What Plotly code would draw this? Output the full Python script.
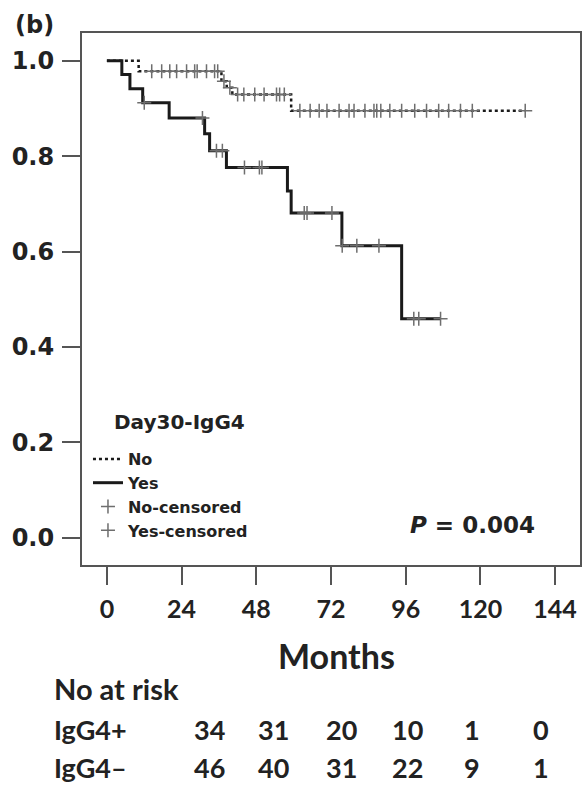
import numpy as np
import plotly.graph_objects as go

# ---------------- data ----------------
months_ticks = [0, 24, 48, 72, 96, 120, 144]
surv_ticks = [0.0, 0.2, 0.4, 0.6, 0.8, 1.0]
surv_ticktext = ["0.0", "0.2", "0.4", "0.6", "0.8", "1.0"]

# Day30-IgG4 = No (dotted)
no_times = [0, 10.2, 36.8, 38.5, 40.3, 59.2]
no_surv = [1.0, 0.978, 0.957, 0.943, 0.929, 0.895]
no_end = 134.4
no_censor = [14.4, 17.6, 20.2, 22.4, 25.6, 28.2, 29.0, 32.0, 34.6, 35.6,
             37.6, 39.5, 42.0, 44.0, 47.5, 50.5, 54.5, 55.5, 57.0,
             62.0, 65.3, 68.2, 70.7, 74.6, 77.8, 79.4, 82.9, 85.8, 86.7, 88.0,
             90.9, 94.7, 98.9, 102.7, 106.6, 109.8, 113.6, 117.4, 134.4]

# Day30-IgG4 = Yes (solid)
yes_times = [0, 4.8, 7.4, 11.5, 20.0, 31.4, 33.0, 38.4, 58.0, 59.2, 75.5, 94.7]
yes_surv = [1.0, 0.971, 0.941, 0.912, 0.880, 0.847, 0.811, 0.776, 0.727, 0.681, 0.612, 0.459]
yes_end = 107.2
yes_censor = [12.0, 30.7, 35.2, 37.1, 44.2, 49.0, 49.8, 63.4, 64.3, 72.3,
              75.6, 80.3, 87.4, 98.6, 100.2, 107.2]

risk_rows = ["IgG4+", "IgG4\u2013"]
risk_pos = [34, 31, 20, 10, 1, 0]
risk_neg = [46, 40, 31, 22, 9, 1]

p_text = "<i>P</i> = 0.004"
legend_title = "Day30-IgG4"

# ---------------- helpers ----------------
def step_value(times, surv, t):
    idx = np.searchsorted(np.array(times), np.array(t), side="right") - 1
    return list(np.array(surv)[idx])

W, H = 583, 787
L, R, T, B = 82, 582, 33, 565  # plot box in pixels

def px(xp):
    return (xp - L) / (R - L)

def py(yp):
    return (B - yp) / (B - T)

fig = go.Figure()

fig.add_trace(go.Scatter(
    x=no_times + [no_end], y=no_surv + [no_surv[-1]],
    mode="lines", line=dict(shape="hv", dash="dot", color="#1a1a1a", width=2.5),
    name="No"))
fig.add_trace(go.Scatter(
    x=yes_times + [yes_end], y=yes_surv + [yes_surv[-1]],
    mode="lines", line=dict(shape="hv", color="#1a1a1a", width=3),
    name="Yes"))
fig.add_trace(go.Scatter(
    x=no_censor, y=step_value(no_times, no_surv, no_censor),
    mode="markers", marker=dict(symbol="cross-thin", size=10,
                                line=dict(width=1.5, color="#6e6e6e")),
    name="No-censored"))
fig.add_trace(go.Scatter(
    x=yes_censor, y=step_value(yes_times, yes_surv, yes_censor),
    mode="markers", marker=dict(symbol="cross-thin", size=10,
                                line=dict(width=1.5, color="#6e6e6e")),
    name="Yes-censored"))

axis_col = "#555555"
bold_font = "DejaVu Sans"
cal_font = "Lato"
fig.update_layout(
    width=W, height=H,
    margin=dict(l=L, r=W - R, t=T, b=H - B),
    paper_bgcolor="white", plot_bgcolor="white",
    showlegend=True,
    legend=dict(
        x=px(88), y=py(442), xanchor="left", yanchor="top",
        bgcolor="rgba(0,0,0,0)",
        font=dict(family=bold_font, size=16, color="#222", weight="bold"),
        tracegroupgap=0, itemwidth=30,
    ),
    xaxis=dict(
        range=[-8, 152], tickvals=months_ticks, ticktext=[str(v) for v in months_ticks],
        showgrid=False, zeroline=False,
        showline=True, mirror=True, linecolor=axis_col, linewidth=2,
        ticks="outside", ticklen=18, tickwidth=2, tickcolor=axis_col,
        tickfont=dict(family=cal_font, size=25, color="#222", weight="bold"),
        ticklabelstandoff=3,
    ),
    yaxis=dict(
        range=[-0.057, 1.058], tickvals=surv_ticks, ticktext=surv_ticktext,
        showgrid=False, zeroline=False,
        showline=True, mirror=True, linecolor=axis_col, linewidth=2,
        ticks="outside", ticklen=18, tickwidth=2, tickcolor=axis_col,
        tickfont=dict(family=bold_font, size=24, color="#222", weight="bold"),
        ticklabelstandoff=3,
    ),
)

ann = []
ann.append(dict(text="(b)", x=px(13), y=py(25), xref="paper", yref="paper",
                xanchor="left", yanchor="middle", showarrow=False,
                font=dict(family=bold_font, size=24, color="#222", weight="bold")))
ann.append(dict(text=legend_title, x=px(112), y=py(422), xref="paper", yref="paper",
                xanchor="left", yanchor="middle", showarrow=False,
                font=dict(family=bold_font, size=20, color="#222", weight="bold")))
ann.append(dict(text=p_text, x=px(539), y=py(525), xref="paper", yref="paper",
                xanchor="right", yanchor="middle", showarrow=False,
                font=dict(family=bold_font, size=23, color="#222", weight="bold")))
ann.append(dict(text="Months", x=px(338), y=py(655), xref="paper", yref="paper",
                xanchor="center", yanchor="middle", showarrow=False,
                font=dict(family=cal_font, size=34, color="#222", weight="bold")))
ann.append(dict(text="No at risk", x=px(52), y=py(688), xref="paper", yref="paper",
                xanchor="left", yanchor="middle", showarrow=False,
                font=dict(family=cal_font, size=29, color="#222", weight="bold")))
col_x = [210, 274, 343, 409, 474, 543]
for row_label, vals, yp in zip(risk_rows, [risk_pos, risk_neg], [729, 767]):
    ann.append(dict(text=row_label, x=px(52), y=py(yp), xref="paper", yref="paper",
                    xanchor="left", yanchor="middle", showarrow=False,
                    font=dict(family=cal_font, size=27, color="#222", weight="bold")))
    for cx, v in zip(col_x, vals):
        ann.append(dict(text=str(v), x=px(cx), y=py(yp), xref="paper", yref="paper",
                        xanchor="center", yanchor="middle", showarrow=False,
                        font=dict(family=cal_font, size=27, color="#222", weight="bold")))
fig.update_layout(annotations=ann)

fig.write_html("out.html",
               config={"displayModeBar": False},
               post_script="document.body.style.margin='0';document.body.style.overflow='hidden';")
